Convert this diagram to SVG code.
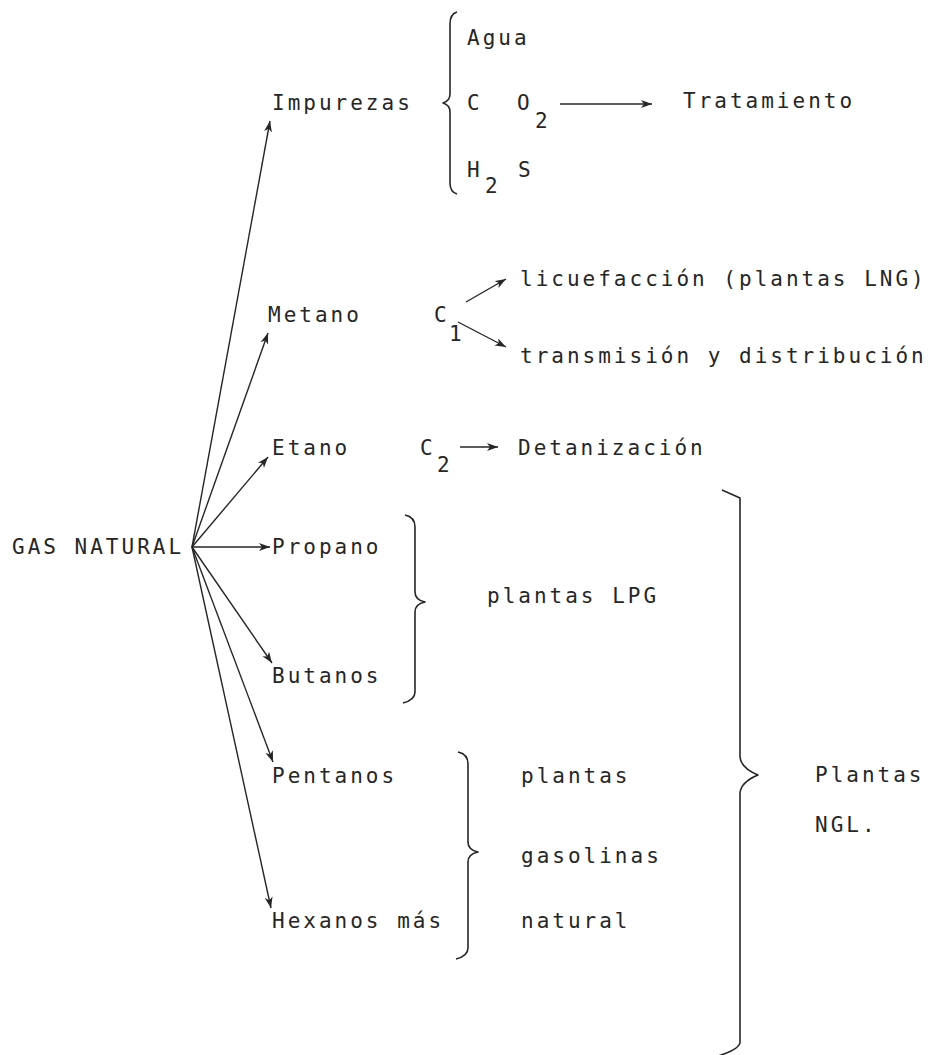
<svg xmlns="http://www.w3.org/2000/svg" width="944" height="1055" viewBox="0 0 944 1055">
<style>
text{font-family:"DejaVu Sans Mono","Liberation Mono",monospace;font-size:21px;letter-spacing:3px;fill:#262626}
.ln{stroke:#262626;stroke-width:1.4;fill:none}
.br{stroke:#262626;stroke-width:1.6;fill:none;stroke-linejoin:round}
</style>
<defs>
<marker id="ah" markerUnits="userSpaceOnUse" markerWidth="14" markerHeight="10" refX="11" refY="4" orient="auto">
<path d="M0,0 L11,4 L0,8 L3,4 z" fill="#262626"/>
</marker>
</defs>
<rect width="944" height="1055" fill="#fff"/>
<g id="connectors">
<line class="ln" x1="192" y1="547" x2="270" y2="121" marker-end="url(#ah)"/>
<line class="ln" x1="192" y1="547" x2="268" y2="333" marker-end="url(#ah)"/>
<line class="ln" x1="192" y1="547" x2="268" y2="457" marker-end="url(#ah)"/>
<line class="ln" x1="192" y1="547" x2="270" y2="547" marker-end="url(#ah)"/>
<line class="ln" x1="192" y1="547" x2="272" y2="663" marker-end="url(#ah)"/>
<line class="ln" x1="192" y1="547" x2="273" y2="762" marker-end="url(#ah)"/>
<line class="ln" x1="192" y1="547" x2="271" y2="908" marker-end="url(#ah)"/>
<line class="ln" x1="560" y1="104" x2="652" y2="104" marker-end="url(#ah)"/>
<line class="ln" x1="466" y1="302" x2="506" y2="279" marker-end="url(#ah)"/>
<line class="ln" x1="458" y1="322" x2="506" y2="347" marker-end="url(#ah)"/>
<line class="ln" x1="460" y1="447" x2="498" y2="447" marker-end="url(#ah)"/>
</g>
<g id="gas-natural"><text x="12" y="554">GAS NATURAL</text></g>
<g id="impurezas">
<text x="272" y="110">Impurezas</text>
<path class="br" d="M457,12 Q450,14 450,24 L450,94 Q450,101 443,103 Q450,105 450,112 L450,183 Q450,192 457,194"/>
<text x="467" y="45">Agua</text>
<text x="467" y="110">C</text><text x="517" y="110">O</text><text x="535" y="128">2</text>
<text x="467" y="177">H</text><text x="485" y="193">2</text><text x="518" y="177">S</text>
</g>
<g id="tratamiento"><text x="683" y="108">Tratamiento</text></g>
<g id="metano">
<text x="268" y="322">Metano</text>
<text x="434" y="322">C</text><text x="449" y="341">1</text>
</g>
<g id="licuefaccion"><text x="520" y="286">licuefacción (plantas LNG)</text></g>
<g id="transmision"><text x="520" y="363">transmisión y distribución</text></g>
<g id="etano">
<text x="272" y="455">Etano</text>
<text x="420" y="455">C</text><text x="437" y="472">2</text>
</g>
<g id="detanizacion"><text x="518" y="455">Detanización</text></g>
<g id="propano"><text x="272" y="554">Propano</text></g>
<g id="butanos"><text x="272" y="683">Butanos</text></g>
<g id="lpg">
<path class="br" d="M405,515 Q415,517 415,527 L415,592 Q415,600 425,602 Q415,604 415,612 L415,692 Q415,700 403,703"/>
<text x="487" y="603">plantas LPG</text>
</g>
<g id="pentanos"><text x="272" y="783">Pentanos</text></g>
<g id="hexanos"><text x="272" y="928">Hexanos más</text></g>
<g id="gasolinas">
<path class="br" d="M458,752 Q468,754 468,764 L468,842 Q468,850 478,852 Q468,854 468,862 L468,948 Q468,956 456,959"/>
<text x="521" y="783">plantas</text>
<text x="521" y="863">gasolinas</text>
<text x="521" y="928">natural</text>
</g>
<g id="ngl">
<path class="br" d="M722,490 L740,498 L740,757 Q741,768 758,775 Q741,782 740,793 L740,1043 Q738,1050 718,1056"/>
<text x="815" y="782">Plantas</text>
<text x="815" y="832">NGL.</text>
</g>
</svg>
